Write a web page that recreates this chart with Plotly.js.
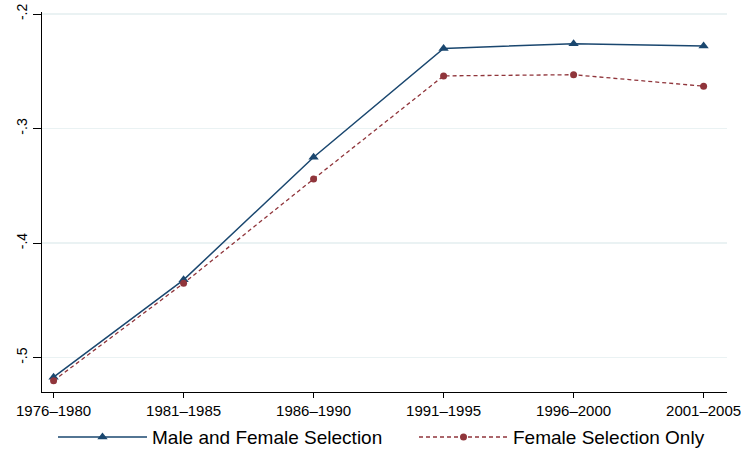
<!DOCTYPE html>
<html>
<head>
<meta charset="utf-8">
<script src="https://cdn.plot.ly/plotly-3.0.1.min.js"></script>
<style>html,body{margin:0;padding:0;background:#fff}#chart{width:741px;height:453px}</style>
</head>
<body>
<div id="chart"></div>
<script>
const periods = ["1976–1980", "1981–1985", "1986–1990", "1991–1995", "1996–2000", "2001–2005"];
const maleFemale = [-0.517, -0.432, -0.325, -0.230, -0.226, -0.228];
const femaleOnly = [-0.520, -0.435, -0.344, -0.254, -0.253, -0.263];
const yTickVals = [-0.5, -0.4, -0.3, -0.2];
const yTickText = ["-.5", "-.4", "-.3", "-.2"];
const seriesNames = ["Male and Female Selection", "Female Selection Only"];

const font = "Liberation Sans, Arial, Helvetica, sans-serif";
const traces = [
  {x: periods, y: maleFemale, name: seriesNames[0], type: "scatter", mode: "lines+markers",
   line: {color: "#1a476f", width: 1.5},
   marker: {symbol: "triangle-up", size: 9, color: "#1a476f"}, legend: "legend"},
  {x: periods, y: femaleOnly, name: seriesNames[1], type: "scatter", mode: "lines+markers",
   line: {color: "#90353b", width: 1.3, dash: "4px,3px"},
   marker: {symbol: "circle", size: 7, color: "#90353b"}, legend: "legend2"}
];
const legendBase = {orientation: "h", yref: "container", yanchor: "middle", y: 0.035,
  xref: "container", xanchor: "left",
  font: {family: font, size: 19, color: "#000"}, itemwidth: 89, bgcolor: "rgba(0,0,0,0)"};
const layout = {
  width: 741, height: 453,
  margin: {l: 42, r: 14, t: 12, b: 61},
  paper_bgcolor: "#fff", plot_bgcolor: "#fff",
  showlegend: true,
  xaxis: {type: "category", range: [-0.089, 5.18], showgrid: false, zeroline: false,
    automargin: false,
    showline: true, linecolor: "#000", linewidth: 1,
    ticks: "outside", ticklen: 5, tickcolor: "#000",
    tickfont: {family: font, size: 15, color: "#000"}},
  yaxis: {range: [-0.5299, -0.19825], tickvals: yTickVals, ticktext: yTickText,
    automargin: false,
    showgrid: true, gridcolor: "#eaf2f3", gridwidth: 1.5, zeroline: false,
    showline: true, linecolor: "#000", linewidth: 1,
    ticks: "outside", ticklen: 8, tickcolor: "#000", tickangle: -90,
    tickfont: {family: font, size: 14, color: "#000"}},
  legend: Object.assign({}, legendBase, {x: 53 / 741}),
  legend2: Object.assign({}, legendBase, {x: 414 / 741})
};
Plotly.newPlot("chart", traces, layout, {displayModeBar: false, staticPlot: true});
</script>
</body>
</html>
